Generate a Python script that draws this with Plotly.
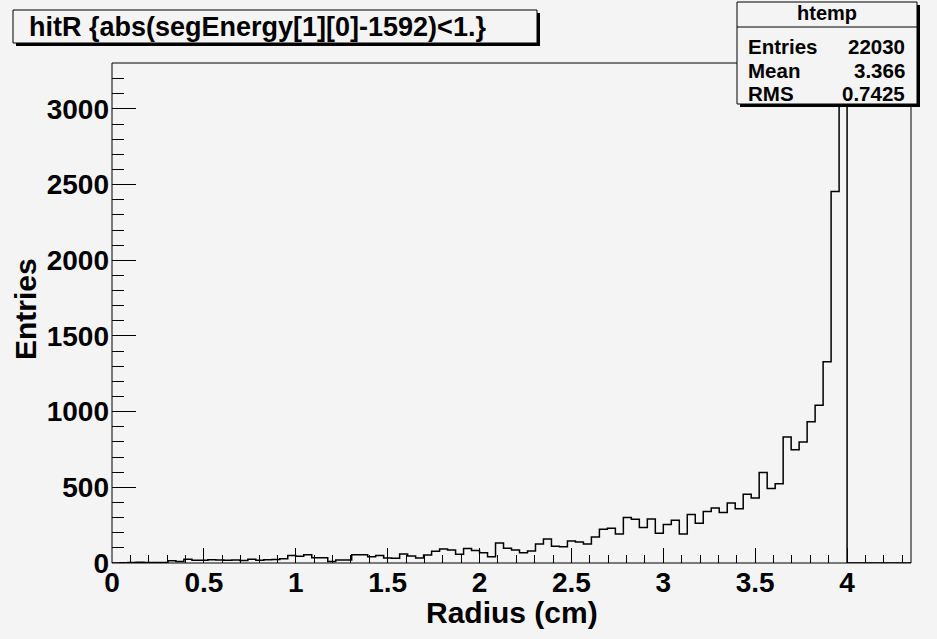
import plotly.graph_objects as go

# Histogram definition: 100 equal bins on [0, 4.348] cm
N_BINS = 100
X_MIN, X_MAX = 0.0, 4.348

counts = [
    0, 2, 3, 5, 4, 4, 3, 15, 10, 24,
    18, 18, 22, 20, 18, 20, 17, 25, 18, 21,
    23, 28, 50, 45, 55, 35, 34, 10, 19, 19,
    54, 54, 41, 50, 33, 31, 60, 47, 33, 53,
    77, 93, 86, 57, 95, 82, 68, 42, 132, 97,
    86, 68, 79, 126, 159, 110, 107, 145, 139, 126,
    172, 223, 230, 192, 300, 289, 234, 291, 196, 254,
    283, 192, 320, 263, 340, 364, 334, 396, 358, 455,
    430, 598, 492, 523, 832, 748, 800, 933, 1042, 1330,
    2455, 3146, 0, 0, 0, 0, 0, 0, 0, 0,
]

hist_name = "htemp"
stat_labels = ["Entries", "Mean", "RMS"]
stat_values = ["22030", "3.366", "0.7425"]
title_text = "hitR {abs(segEnergy[1][0]-1592)<1.}"
x_title = "Radius (cm)"
y_title = "Entries"

BG = "#f4f4f4"
FONT = "Liberation Sans"

bin_w = (X_MAX - X_MIN) / N_BINS
edges = [X_MIN + i * bin_w for i in range(N_BINS + 1)]
step_x = edges
step_y = counts + [counts[-1]]
y_top = 1.05 * max(counts)

# Canvas geometry (pixels)
W_FIG, H_FIG = 937, 639
L, R, T, B = 112, 911, 63, 563
PW, PH = R - L, B - T


def px(x):
    return (x - L) / PW


def py(y):
    return (B - y) / PH


fig = go.Figure()
fig.add_trace(go.Scatter(
    x=step_x, y=step_y, mode="lines", line_shape="hv",
    line=dict(color="black", width=1.5), hoverinfo="skip", showlegend=False,
    cliponaxis=True,
))

shapes = []
annotations = []

# Frame around the plot area
shapes.append(dict(type="rect", xref="paper", yref="paper", x0=0, y0=0, x1=1, y1=1,
                   line=dict(color="black", width=1), layer="above"))


def boxed(x0, y0, x1, y1, shadow=3):
    shapes.append(dict(type="rect", xref="paper", yref="paper",
                       x0=px(x0 + shadow), y0=py(y1 + shadow), x1=px(x1 + shadow), y1=py(y0 + shadow),
                       line=dict(width=0), fillcolor="black", layer="above"))
    shapes.append(dict(type="rect", xref="paper", yref="paper",
                       x0=px(x0), y0=py(y1), x1=px(x1), y1=py(y0),
                       line=dict(color="black", width=1), fillcolor=BG, layer="above"))


# Title box
boxed(13, 10, 537, 43)
annotations.append(dict(xref="paper", yref="paper", x=px(257), y=py(27),
                        text=title_text, showarrow=False, xanchor="center", yanchor="middle",
                        font=dict(family=FONT, size=27, color="black", weight="bold")))

# Statistics box
SX0, SX1, SY0, SY1 = 737, 917, 2, 104
boxed(SX0, SY0, SX1, SY1)
shapes.append(dict(type="line", xref="paper", yref="paper",
                   x0=px(SX0), x1=px(SX1), y0=py(27), y1=py(27),
                   line=dict(color="black", width=1), layer="above"))
annotations.append(dict(xref="paper", yref="paper", x=px((SX0 + SX1) / 2), y=py(13),
                        text=hist_name, showarrow=False, xanchor="center", yanchor="middle",
                        font=dict(family=FONT, size=20, color="black", weight="bold")))
for i, (lab, val) in enumerate(zip(stat_labels, stat_values)):
    yy = py(47 + 23 * i)
    annotations.append(dict(xref="paper", yref="paper", x=px(SX0 + 9), y=yy, text=lab,
                            showarrow=False, xanchor="left", yanchor="middle",
                            font=dict(family=FONT, size=20.5, color="black", weight="bold")))
    annotations.append(dict(xref="paper", yref="paper", x=px(SX1 - 10), y=yy, text=val,
                            showarrow=False, xanchor="right", yanchor="middle",
                            font=dict(family=FONT, size=20.5, color="black", weight="bold")))

# Axis titles
annotations.append(dict(xref="paper", yref="paper", x=px(512), y=py(612), text=x_title,
                        showarrow=False, xanchor="center", yanchor="middle",
                        font=dict(family=FONT, size=30, color="black", weight="bold")))
annotations.append(dict(xref="paper", yref="paper", x=px(25), y=py(309), text=y_title,
                        showarrow=False, xanchor="center", yanchor="middle", textangle=-90,
                        font=dict(family=FONT, size=30, color="black", weight="bold")))

tick_font = dict(family=FONT, size=28, color="black", weight="bold")

fig.update_layout(
    width=W_FIG, height=H_FIG,
    margin=dict(l=L, r=W_FIG - R, t=T, b=H_FIG - B, pad=0),
    paper_bgcolor=BG, plot_bgcolor=BG,
    showlegend=False,
    shapes=shapes, annotations=annotations,
    xaxis=dict(range=[X_MIN, X_MAX], dtick=0.5, tick0=0, ticks="inside", ticklen=15,
               tickwidth=1, tickcolor="black", showgrid=False, zeroline=False,
               showline=False, tickfont=tick_font, ticklabelstandoff=0,
               minor=dict(dtick=0.1, ticks="inside", ticklen=8, tickcolor="black", tickwidth=1,
                          showgrid=False)),
    yaxis=dict(range=[0, y_top], dtick=500, tick0=0, ticks="inside", ticklen=24,
               tickwidth=1, tickcolor="black", showgrid=False, zeroline=False,
               showline=False, tickfont=tick_font, ticklabelstandoff=2,
               minor=dict(dtick=100, ticks="inside", ticklen=12, tickcolor="black", tickwidth=1,
                          showgrid=False)),
)

fig.write_html("out.html")
